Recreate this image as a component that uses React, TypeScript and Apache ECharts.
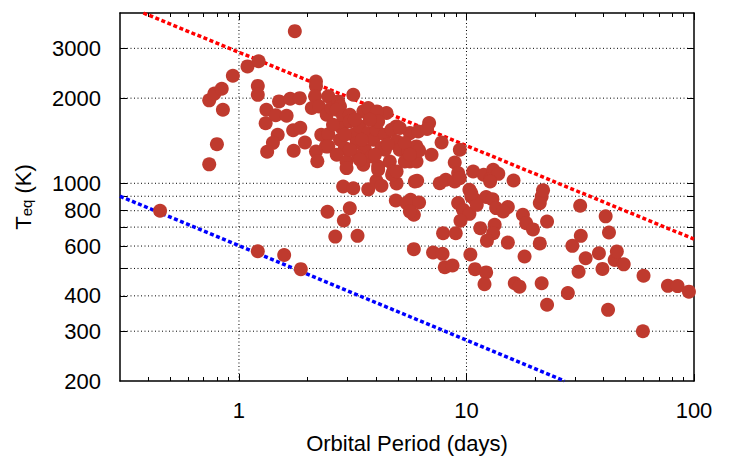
import React, { useEffect, useRef } from "react";
import * as echarts from "echarts";

// Axis ranges (real units)
const periodRange = [0.3, 100];
const teqRange = [200, 4000];

// Tick / label / grid values (real units)
const xMajorTicks = [1, 10, 100];
const xMinorTicks = [0.4, 0.5, 0.6, 0.7, 0.8, 0.9, 2, 3, 4, 5, 6, 7, 8, 9, 20, 30, 40, 50, 60, 70, 80, 90];
const yTickValues = [300, 400, 500, 600, 700, 800, 900, 1000, 2000, 3000];
const yLabelValues = [200, 300, 400, 600, 800, 1000, 2000, 3000];
const xGridValues = [1, 10];
const yGridValues = [300, 400, 500, 600, 700, 800, 900, 1000, 2000, 3000];

// Reference lines (endpoints)
const hotLimit = [[0.38, 4000], [100, 635]];
const coolLimit = [[0.3, 900], [27, 200]];

// Planets: [orbital period (days), equilibrium temperature (K)]
const planets: [number, number][] = [
  [0.45, 800], [1.21, 575], [1.58, 558], [1.87, 497], [0.74, 1167], [0.80, 1375], [0.74, 1965], [0.78, 2075],
  [0.84, 2160], [0.85, 1820], [0.94, 2400], [1.09, 2590], [1.22, 2700], [1.76, 3450], [1.21, 2210], [1.21, 2055],
  [1.32, 1820], [1.31, 1630], [1.45, 1740], [1.62, 1733], [1.50, 1948], [1.68, 1990], [1.85, 2000], [1.48, 1484],
  [1.41, 1390], [1.33, 1293], [1.74, 1303], [1.73, 1540], [1.86, 1572], [1.95, 1394],
  [2.18, 2290], [2.18, 2205], [2.16, 2030], [2.47, 2030], [3.18, 2057], [2.18, 1296], [2.21, 1196], [2.30, 1484],
  [2.47, 1490], [2.41, 1350], [2.09, 1845], [2.25, 1870], [2.43, 1748], [2.55, 1845], [2.73, 1948], [2.78, 1870],
  [2.69, 1820], [2.87, 1723], [3.07, 1748], [3.52, 1795], [3.70, 1845], [4.45, 1772], [4.04, 1795], [4.93, 1589],
  [4.84, 1568], [5.64, 1505], [6.13, 1525], [2.47, 1350],
  [2.83, 1568], [2.78, 1425], [2.92, 1332], [3.18, 1484], [3.29, 1388], [3.40, 1589], [3.70, 1505], [3.58, 1314],
  [3.89, 1425], [4.02, 1547], [4.23, 1332], [4.38, 1484], [4.68, 1547], [4.93, 1406], [5.09, 1314], [5.54, 1296],
  [6.03, 1350], [5.64, 1194], [6.03, 1194],
  [2.69, 1261], [2.97, 1194], [3.34, 1244], [3.83, 1244], [2.97, 1132], [3.52, 1163], [4.09, 1147], [4.60, 1194],
  [4.76, 1101], [3.07, 1654], [4.09, 1654],
  [2.87, 974], [3.18, 960], [3.70, 952], [4.02, 1020], [4.23, 980], [4.93, 999], [5.93, 1015], [4.71, 1072],
  [4.93, 1101], [4.09, 1116], [5.36, 1194], [4.89, 869], [5.68, 874], [5.45, 851], [5.87, 774], [2.45, 793],
  [3.07, 816], [2.89, 739], [2.65, 648], [3.32, 652], [5.87, 585],
  [6.85, 1633], [6.71, 1555], [7.77, 1394], [6.19, 1306], [7.02, 1261], [9.35, 1314], [8.88, 1185], [10.7, 1101],
  [11.9, 1072], [13.1, 1116], [12.7, 1035], [13.8, 1080], [16.1, 1023], [9.19, 1087], [6.07, 1020], [7.63, 1000],
  [8.11, 1029], [8.88, 1015], [9.35, 1043],
  [10.3, 948], [10.5, 898], [10.9, 874], [12.2, 894], [13.0, 879], [6.19, 855], [9.19, 851], [9.66, 806],
  [13.5, 817], [15.2, 824], [14.5, 795], [10.3, 780], [5.64, 795], [17.7, 774], [18.3, 723], [9.41, 737],
  [11.5, 694], [13.3, 713], [13.1, 666], [7.89, 666], [8.97, 666], [12.3, 627], [15.2, 617], [19.6, 687],
  [18.0, 551], [7.13, 569], [7.85, 563], [10.4, 560], [21.0, 613],
  [8.03, 505], [8.68, 512], [10.9, 497], [12.2, 484], [12.0, 440], [16.3, 443], [17.1, 431], [21.4, 443],
  [22.6, 372], [27.9, 409], [31.1, 487], [29.2, 601], [33.4, 543], [38.2, 566], [39.6, 498], [44.8, 536],
  [45.8, 574], [49.1, 517], [60.0, 471], [76.8, 434], [84.7, 433], [95.0, 414], [41.9, 357], [59.6, 300],
  [31.6, 833], [40.9, 764], [42.3, 670], [31.8, 652], [22.6, 733], [21.0, 851], [21.4, 898], [21.7, 945],
  [11.1, 839], [12.7, 1015], [10.5, 923],
  [5.36, 1388], [5.64, 1261], [5.09, 1568],
  [3.23, 1677], [3.76, 1677], [3.47, 1425], [4.38, 1314], [3.07, 1314], [3.40, 1211], [3.96, 1261], [4.51, 1368],
  [2.59, 1611], [2.92, 1484],
];

const L = (v: number) => Math.log10(v);
const FONT = "'Liberation Sans', Arial, Helvetica, sans-serif";

export default function App() {
  const ref = useRef<HTMLDivElement>(null);

  useEffect(() => {
    if (!ref.current) return;
    const chart = echarts.init(ref.current, undefined, { renderer: "svg" });

    const xMin = L(periodRange[0]);
    const xMax = L(periodRange[1]);
    const yMin = L(teqRange[0]);
    const yMax = L(teqRange[1]);
    const fmt = (v: number) => String(Math.round(Math.pow(10, v)));

    const frameLine = { show: true, onZero: false, lineStyle: { color: "#000", width: 1.5 } };
    const noLine = { show: false, onZero: false };

    const makeX = (position: string, ticks: number[], len: number, line: boolean, labels: boolean, extra: any = {}) => ({
      type: "value",
      min: xMin,
      max: xMax,
      position,
      axisLine: line ? frameLine : noLine,
      axisTick: { show: true, inside: true, length: len, customValues: ticks.map(L), lineStyle: { color: "#000", width: 1 } },
      axisLabel: labels
        ? { show: true, customValues: xMajorTicks.map(L), formatter: fmt, fontSize: 22, color: "#000", fontFamily: FONT, margin: 18 }
        : { show: false },
      splitLine: { show: false },
      ...extra,
    });

    const makeY = (position: string, labels: boolean, extra: any = {}) => ({
      type: "value",
      min: yMin,
      max: yMax,
      position,
      axisLine: frameLine,
      axisTick: { show: true, inside: true, length: 7, customValues: yTickValues.map(L), lineStyle: { color: "#000", width: 1 } },
      axisLabel: labels
        ? { show: true, customValues: yLabelValues.map(L), formatter: fmt, fontSize: 22, color: "#000", fontFamily: FONT, margin: 19 }
        : { show: false },
      splitLine: { show: false },
      ...extra,
    });

    const gridStyle = { color: "#000", width: 1, type: [1, 2.5] as any };
    const gridSeries: any[] = [
      ...xGridValues.map((v) => ({
        type: "line",
        data: [[L(v), yMin], [L(v), yMax]],
        symbol: "none",
        silent: true,
        lineStyle: gridStyle,
        z: 1,
      })),
      ...yGridValues.map((v) => ({
        type: "line",
        data: [[xMin, L(v)], [xMax, L(v)]],
        symbol: "none",
        silent: true,
        lineStyle: gridStyle,
        z: 1,
      })),
    ];

    chart.setOption({
      animation: false,
      grid: { left: 120, right: 48, top: 13, bottom: 81, containLabel: false },
      xAxis: [
        makeX("bottom", xMajorTicks, 7, true, true, {
          name: "Orbital Period (days)",
          nameLocation: "middle",
          nameGap: 51,
          nameTextStyle: { fontSize: 22, color: "#000", fontFamily: FONT },
        }),
        makeX("bottom", xMinorTicks, 4, false, false),
        makeX("top", xMajorTicks, 7, true, false),
        makeX("top", xMinorTicks, 4, false, false),
      ],
      yAxis: [
        makeY("left", true, {
          name: "{a|T}{b|eq}{a| (K)}",
          nameLocation: "middle",
          nameGap: 86,
          nameTextStyle: {
            color: "#000",
            fontFamily: FONT,
            rich: {
              a: { fontSize: 22, fontFamily: FONT, color: "#000", lineHeight: 28, verticalAlign: "bottom" },
              b: { fontSize: 15, fontFamily: FONT, color: "#000", lineHeight: 15, verticalAlign: "bottom" },
            },
          },
        }),
        makeY("right", false),
      ],
      series: [
        ...gridSeries,
        {
          type: "line",
          data: coolLimit.map(([p, t]) => [L(p), L(t)]),
          symbol: "none",
          silent: true,
          lineStyle: { color: "#0000ff", width: 3.5, type: [4, 2.5] as any },
          z: 2,
        },
        {
          type: "line",
          data: hotLimit.map(([p, t]) => [L(p), L(t)]),
          symbol: "none",
          silent: true,
          lineStyle: { color: "#ff0000", width: 3.5, type: [4, 2.5] as any },
          z: 2,
        },
        {
          type: "scatter",
          data: planets.map(([p, t]) => [L(p), L(t)]),
          symbol: "circle",
          symbolSize: 14,
          itemStyle: { color: "#bf3a2e", opacity: 1 },
          z: 3,
        },
      ],
    });

    return () => chart.dispose();
  }, []);

  return <div ref={ref} style={{ position: "fixed", left: 0, top: 0, width: 742, height: 462, background: "#fff" }} />;
}
